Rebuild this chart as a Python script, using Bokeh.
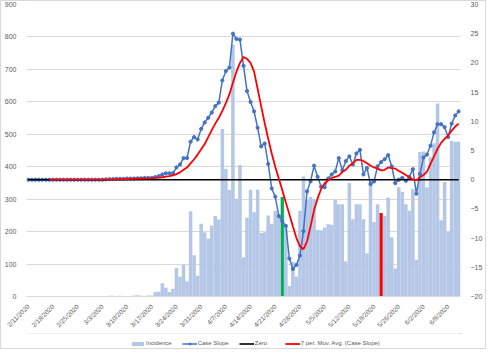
import math
import pandas as pd
from bokeh.plotting import figure
from bokeh.layouts import column
from bokeh.models import Range1d, LinearAxis, FixedTicker, Legend, LegendItem
from bokeh.embed import file_html
from bokeh.resources import INLINE

# ---------------- data ----------------
start_date = "2020-02-11"
n_days = 123
dates = [d for d in pd.date_range(start_date, periods=n_days, freq="D")]
date_labels = [f"{d.month}/{d.day}/{d.year}" for d in dates]

tick_labels = ["2/11/2020", "2/18/2020", "2/25/2020", "3/3/2020", "3/10/2020", "3/17/2020",
               "3/24/2020", "3/31/2020", "4/7/2020", "4/14/2020", "4/21/2020", "4/28/2020",
               "5/5/2020", "5/12/2020", "5/19/2020", "5/26/2020", "6/2/2020", "6/9/2020"]

incidence = [
    0, 0, 0, 0, 0, 0, 0, 0, 0, 0,
    0, 0, 0, 0, 0, 0, 0, 0, 0, 0,
    0, 0, 1, 2, 2, 1, 2, 1, 0, 1,
    3, 4, 2, 1, 3, 3, 14, 15, 41, 27,
    14, 24, 88, 61, 98, 47, 263, 127, 64, 224,
    198, 178, 219, 248, 237, 516, 393, 328, 776, 301,
    405, 121, 243, 329, 260, 329, 196, 198, 250, 224,
    264, 249, 307, 219, 32, 106, 62, 264, 370, 298,
    307, 300, 205, 204, 213, 223, 221, 298, 284, 284,
    108, 350, 238, 284, 284, 238, 133, 358, 230, 284,
    257, 249, 305, 183, 86, 337, 323, 284, 264, 331,
    113, 445, 447, 337, 429, 472, 595, 235, 353, 200,
    479, 477, 477,
]

case_slope = [
    0, 0, 0, 0, 0, 0, 0, 0, 0, 0,
    0, 0, 0, 0, 0, 0, 0, 0, 0, 0,
    0, 0, 0.05, 0.1, 0.1, 0.15, 0.15, 0.15, 0.2, 0.2,
    0.2, 0.25, 0.25, 0.3, 0.3, 0.3, 0.45, 0.6, 0.9, 1.1,
    1.1, 1.1, 2.1, 2.6, 3.7, 3.7, 6.5, 7.3, 6.9, 8.7,
    9.8, 10.6, 11.5, 12.6, 13.2, 17.0, 18.6, 19.2, 25.0, 24.1,
    24.0, 19.5, 15.2, 13.3, 11.7, 8.9, 5.7, 6.2, 2.7, -1.5,
    -2.9, -6.2, -7.1, -7.9, -13.5, -15.3, -14.6, -13.0, -8.8, -2.0,
    -0.3, 2.4, 0.5, -1.2, -1.3, 0.2, 0.9, 1.4, 3.7, 1.6,
    3.2, 4.0, 2.6, 4.5, 5.1, 0.9, 2.0, -0.75, -0.3, 2.3,
    3.0, 3.5, 4.2, 2.3, -0.6, 0.0, 0.3, -0.2, 0.5, 1.8,
    -2.4, 1.0, 3.8, 4.3, 5.8, 8.1, 9.5, 9.5, 9.0, 7.3,
    9.6, 11.0, 11.7,
]

zero = [0] * n_days

moving_avg = [
    None, None, None, None, None, None, 0, 0, 0, 0,
    0, 0, 0, 0, 0, 0, 0, 0, 0, 0,
    0, 0, 0.01, 0.02, 0.04, 0.06, 0.08, 0.1, 0.12, 0.14,
    0.16, 0.18, 0.2, 0.22, 0.24, 0.26, 0.3, 0.35, 0.42, 0.52,
    0.62, 0.75, 0.95, 1.25, 1.7, 2.1, 2.8, 3.5, 4.3, 5.2,
    6.1, 7.3, 8.5, 9.6, 10.6, 11.8, 13.1, 14.6, 16.6, 18.5,
    20.0, 21.0, 20.7, 20.0, 18.5, 15.6, 12.6, 9.7, 7.0, 4.5,
    2.2, 0.2, -1.8, -3.9, -5.9, -8.0, -10.0, -11.4, -11.9, -10.6,
    -8.0, -5.2, -3.2, -1.6, -0.6, -0.1, 0.3, 0.5, 0.7, 1.3,
    1.7, 2.4, 2.8, 3.4, 3.4, 3.2, 2.8, 2.4, 2.1, 1.9,
    1.6, 1.7, 2.1, 2.0, 1.9, 1.5, 1.2, 0.8, 0.4, 0.05,
    -0.1, 0.4, 0.8, 1.4, 2.7, 4.0, 5.3, 6.3, 7.0, 7.6,
    8.4, 9.1, 9.6,
]

highlight_dates = ["4/23/2020", "5/21/2020"]

legend_labels = ["Incidence", "Case Slope", "Zero", "7 per. Mov. Avg. (Case Slope)"]

# ---------------- styles ----------------
day = list(range(n_days))
ma_vals = [float("nan") if v is None else v for v in moving_avg]

GRID = "#D9D9D9"
TXT = "#595959"
FONT = "Liberation Sans"
BAR = "#B4C7E7"
BLUE = "#4472C4"
RED = "#FF0000"


def draw_series(fig, slope_range=None):
    """Draw the four series on a figure and return their renderers."""
    kw = {"y_range_name": slope_range} if slope_range else {}
    r_bar = fig.vbar(x=day, top=incidence, width=1.0, fill_color=BAR, line_color=None)
    r_sl = fig.line(day, case_slope, line_color=BLUE, line_width=1.5, **kw)
    r_sp = fig.scatter(day, case_slope, size=3.2, fill_color=BLUE, line_color=BLUE, **kw)
    r_zero = fig.line(day, zero, line_color="black", line_width=1.6, **kw)
    r_ma = fig.line(day, ma_vals, line_color=RED, line_width=1.8, **kw)
    return r_bar, r_sl, r_sp, r_zero, r_ma


# ---------------- main chart ----------------
p = figure(width=484, height=332, output_backend="svg", toolbar_location=None,
           x_range=Range1d(-0.5, n_days - 0.5), y_range=Range1d(0, 900),
           min_border_left=18, min_border_right=16, min_border_top=3, min_border_bottom=30)
p.extra_y_ranges = {"slope": Range1d(-20, 30)}
p.outline_line_color = None
p.background_fill_color = "white"

r_bar, r_sl, r_sp, r_zero, r_ma = draw_series(p, "slope")
# highlighted bars drawn right above the incidence bars
hl_idx = [date_labels.index(d) for d in highlight_dates]
hl_colors = ["#00B050", RED]
r_hl = p.vbar(x=hl_idx, top=[incidence[i] for i in hl_idx], width=0.85,
              fill_color=hl_colors, line_color=None)
p.renderers.remove(r_hl)
p.renderers.insert(1, r_hl)

p.yaxis.ticker = FixedTicker(ticks=list(range(0, 901, 100)))
right = LinearAxis(y_range_name="slope", ticker=FixedTicker(ticks=list(range(-20, 31, 5))))
p.add_layout(right, "right")

tick_idx = [date_labels.index(t) for t in tick_labels]
p.xaxis.ticker = FixedTicker(ticks=tick_idx)
p.xaxis.major_label_overrides = {i: date_labels[i] for i in tick_idx}
p.xaxis.major_label_orientation = math.pi / 4

for ax in p.yaxis + p.xaxis:
    ax.axis_line_color = None
    ax.major_tick_line_color = None
    ax.minor_tick_line_color = None
    ax.major_label_text_color = TXT
    ax.major_label_text_font = FONT
    ax.major_label_text_font_size = "7px"
    ax.major_label_standoff = 4
p.xaxis.axis_line_color = GRID
p.xaxis.major_label_text_font_size = "6.5px"
p.xaxis.major_label_standoff = 3

p.xgrid.visible = False
p.ygrid.grid_line_color = GRID
p.ygrid.grid_line_width = 1

# ---------------- legend strip (series drawn out of its view) ----------------
lf = figure(width=484, height=15, output_backend="svg", toolbar_location=None,
            x_range=Range1d(0, 1), y_range=Range1d(-100, -99),
            min_border_left=0, min_border_right=0, min_border_top=0, min_border_bottom=0)
lf.axis.visible = False
lf.grid.visible = False
lf.outline_line_color = None

l_bar, l_sl, l_sp, l_zero, l_ma = draw_series(lf)

legend = Legend(items=[
    LegendItem(label=legend_labels[0], renderers=[l_bar]),
    LegendItem(label=legend_labels[1], renderers=[l_sl, l_sp]),
    LegendItem(label=legend_labels[2], renderers=[l_zero]),
    LegendItem(label=legend_labels[3], renderers=[l_ma]),
], orientation="horizontal", location=(104, 2))
legend.label_text_font = FONT
legend.label_text_font_size = "6px"
legend.label_text_color = TXT
legend.label_height = 6
legend.glyph_width = 15
legend.glyph_height = 5
legend.label_standoff = 1
legend.spacing = 10
legend.padding = 1
legend.margin = 0
legend.border_line_color = None
legend.background_fill_alpha = 0
lf.add_layout(legend, "center")

layout = column(p, lf, spacing=0)
layout.styles = {"border": "1px solid #D9D9D9"}

open("out.html", "w").write(file_html(layout, INLINE))
